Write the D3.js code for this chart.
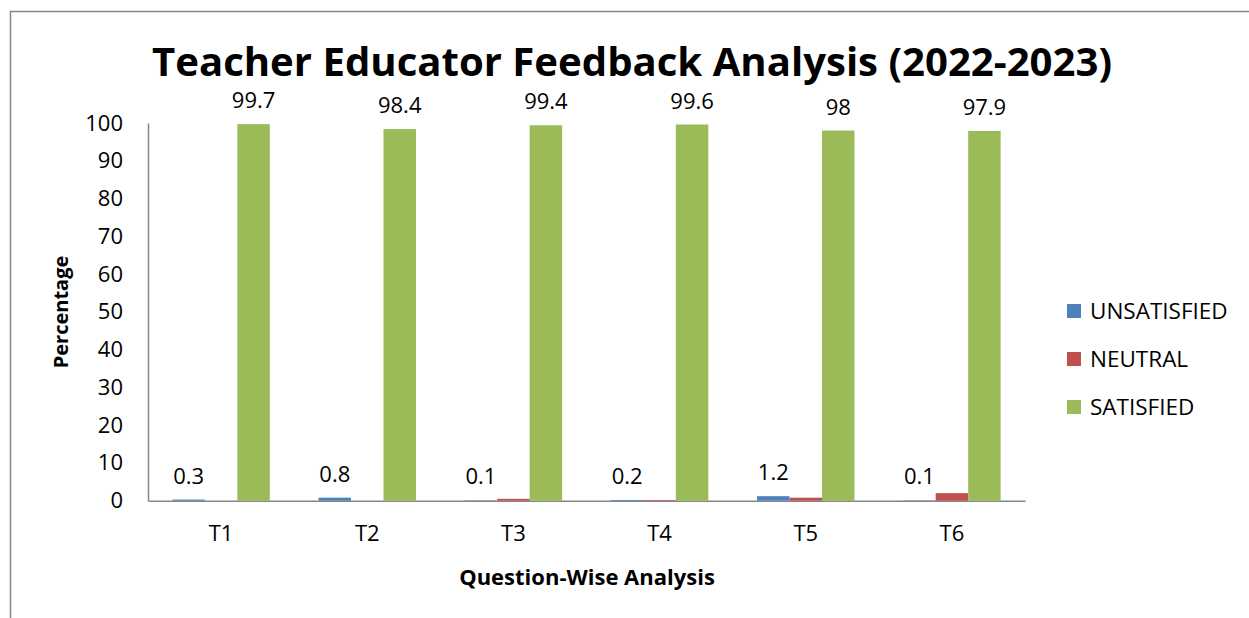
<!DOCTYPE html>
<html>
<head>
<meta charset="utf-8">
<script src="https://cdn.jsdelivr.net/npm/d3@7"></script>
<style>
  body { margin: 0; background: #fff; }
  text { font-family: "Open Sans", "Liberation Sans", sans-serif; fill: #000; }
</style>
</head>
<body>
<svg width="1249" height="618"></svg>
<script>
// data
var categories = ['T1', 'T2', 'T3', 'T4', 'T5', 'T6'];
var seriesNames = ['UNSATISFIED', 'NEUTRAL', 'SATISFIED'];
var unsatisfied = [0.3, 0.8, 0.1, 0.2, 1.2, 0.1];
var neutral = [0, 0, 0.5, 0.2, 0.8, 2.0];
var satisfied = [99.7, 98.4, 99.4, 99.6, 98, 97.9];
var yTicks = [0, 10, 20, 30, 40, 50, 60, 70, 80, 90, 100];
var colors = ['#4F81BD', '#C0504D', '#9BBB59'];
var showLabels = [true, false, true];

var values = [unsatisfied, neutral, satisfied];

var svg = d3.select('svg');

// outer chart frame
svg.append('rect')
    .attr('x', 10.5)
    .attr('y', 11.5)
    .attr('width', 1400)
    .attr('height', 800)
    .attr('fill', 'none')
    .attr('stroke', '#868686')
    .attr('stroke-width', 1.5);

var plotLeft = 148, plotRight = 1025, plotTop = 123, plotBottom = 500.7;

var x = d3.scaleBand()
    .domain(categories)
    .range([plotLeft, plotRight]);

var bw = x.bandwidth() / 4.5;
var xs = d3.scaleBand()
    .domain(seriesNames)
    .range([0, bw * 3]);

var y = d3.scaleLinear()
    .domain([0, 100])
    .range([plotBottom, plotTop]);

// title
svg.append('text')
    .attr('x', 632)
    .attr('y', 76)
    .attr('text-anchor', 'middle')
    .attr('font-size', 40)
    .attr('font-weight', 'bold')
    .attr('textLength', 960)
    .attr('lengthAdjust', 'spacingAndGlyphs')
    .text('Teacher Educator Feedback Analysis (2022-2023)');

// y axis
var yAxis = svg.append('g')
    .attr('transform', 'translate(' + plotLeft + ',0)')
    .call(d3.axisLeft(y).tickValues(yTicks).tickSize(0).tickPadding(25));
yAxis.select('.domain').attr('stroke', '#868686').attr('stroke-width', 1.5);
yAxis.selectAll('text')
    .attr('font-size', 22)
    .attr('font-family', '"Open Sans", sans-serif');

// x axis
var xAxis = svg.append('g')
    .attr('transform', 'translate(0,' + plotBottom + ')')
    .call(d3.axisBottom(x).tickSize(0).tickPadding(25));
xAxis.select('.domain').attr('stroke', '#868686').attr('stroke-width', 1.5);
xAxis.selectAll('text')
    .attr('font-size', 22)
    .attr('font-family', '"Open Sans", sans-serif');

// bars
seriesNames.forEach(function(name, si) {
    var g = svg.append('g').attr('class', 'series');
    var offset = function(c) {
        return x(c) + x.bandwidth() / 2 - bw * 1.5 + xs(name);
    };
    g.selectAll('rect')
        .data(values[si])
        .enter()
        .append('rect')
        .attr('x', function(d, i) { return offset(categories[i]); })
        .attr('y', function(d) { return y(d); })
        .attr('width', xs.bandwidth())
        .attr('height', function(d) { return plotBottom - y(d); })
        .attr('fill', colors[si]);

    if (showLabels[si]) {
        g.selectAll('text')
            .data(values[si])
            .enter()
            .append('text')
            .attr('x', function(d, i) { return offset(categories[i]) + xs.bandwidth() / 2; })
            .attr('y', function(d) { return y(d) - 16; })
            .attr('text-anchor', 'middle')
            .attr('font-size', 22)
            .text(function(d) { return d; });
    }
});

// axis titles
svg.append('text')
    .attr('transform', 'translate(68,' + 312 + ') rotate(-90)')
    .attr('text-anchor', 'middle')
    .attr('font-size', 20)
    .attr('font-weight', 'bold')
    .text('Percentage');

svg.append('text')
    .attr('x', 587)
    .attr('y', 585)
    .attr('text-anchor', 'middle')
    .attr('font-size', 22)
    .attr('font-weight', 'bold')
    .text('Question-Wise Analysis');

// legend
var legend = svg.selectAll('.legend')
    .data(seriesNames)
    .enter()
    .append('g')
    .attr('class', 'legend')
    .attr('transform', function(d, i) {
        return 'translate(' + [1067, 311 + i * 48] + ')';
    });

legend.append('rect')
    .attr('x', 0)
    .attr('y', -7)
    .attr('width', 14)
    .attr('height', 14)
    .attr('fill', function(d, i) { return colors[i]; });

legend.append('text')
    .attr('x', 23)
    .attr('y', 0)
    .attr('dy', '0.35em')
    .attr('font-size', 22.5)
    .text(function(d) { return d; });
</script>
</body>
</html>
